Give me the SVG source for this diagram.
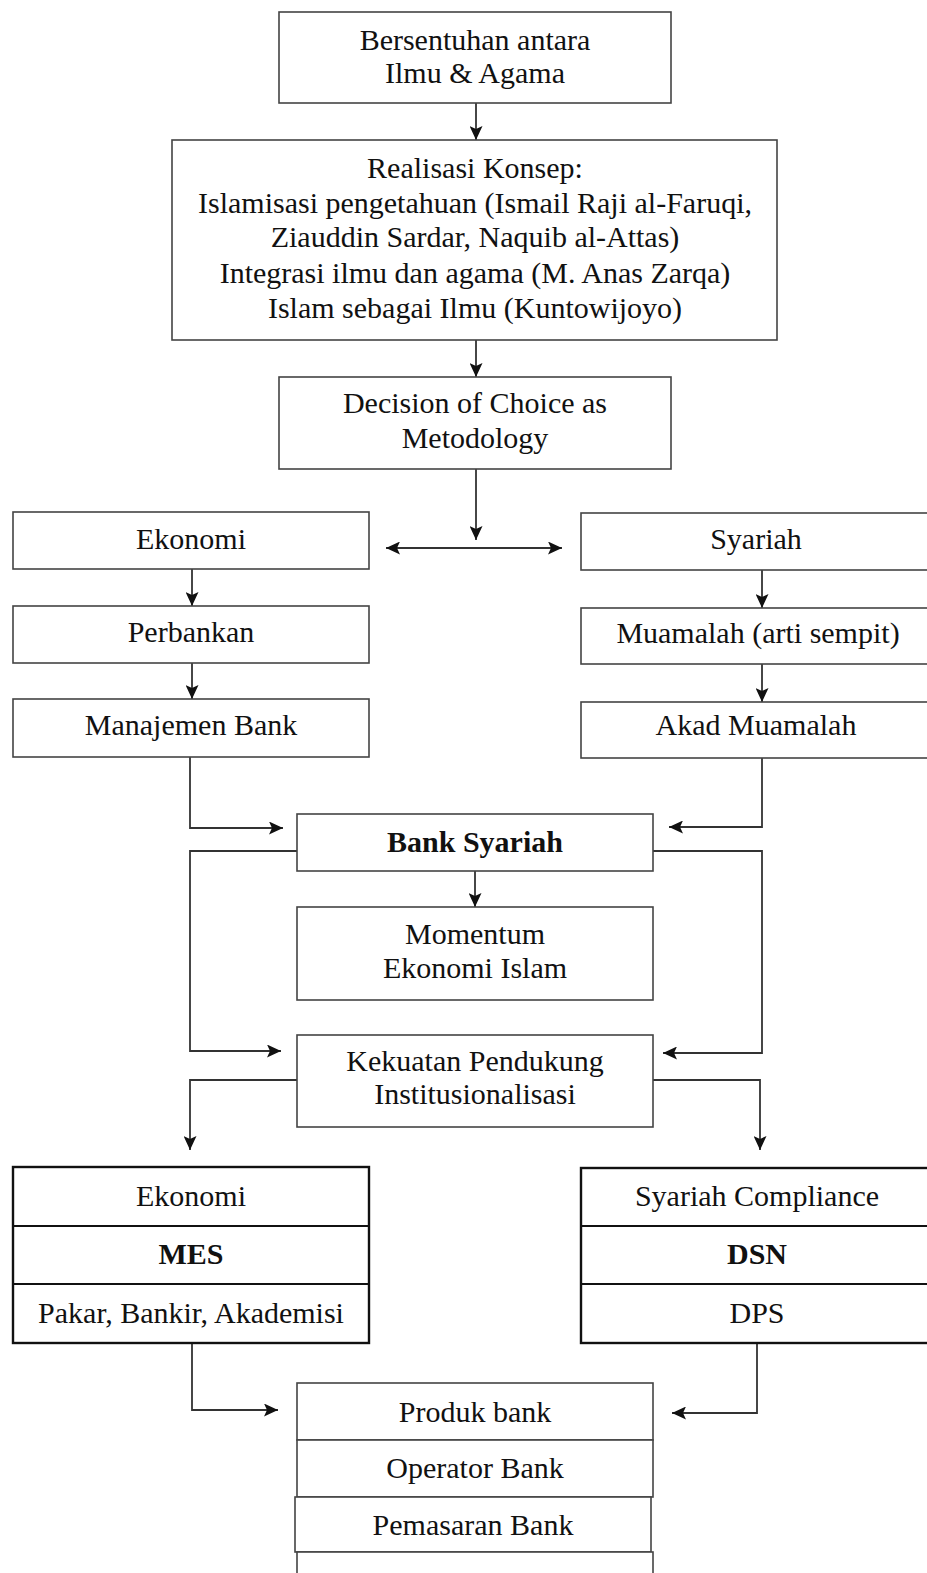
<svg xmlns="http://www.w3.org/2000/svg" width="927" height="1573" viewBox="0 0 927 1573">
<defs>
<style>
.box{fill:#fff;stroke:#444;stroke-width:1.6}
.sbox{fill:#fff;stroke:#111;stroke-width:2.4}
.row{stroke:#111;stroke-width:2.2}
.prow{stroke:#444;stroke-width:1.6}
.t{font-family:"Liberation Serif","Times New Roman",serif;font-size:30px;fill:#111;text-anchor:middle}
.b{font-weight:bold}
.c{fill:none;stroke:#333;stroke-width:1.8}
</style>
<marker id="ah" markerUnits="userSpaceOnUse" viewBox="0 0 14 13" refX="14" refY="6.5" markerWidth="14" markerHeight="13" orient="auto-start-reverse">
<path d="M0,0 L14,6.5 L0,13 L3,6.5 Z" fill="#111"/>
</marker>
</defs>
<rect width="927" height="1573" fill="#fff"/>
<g id="connectors">
<path class="c" d="M476,103 V140" marker-end="url(#ah)"/>
<path class="c" d="M476,340 V377" marker-end="url(#ah)"/>
<path class="c" d="M476,469 V540" marker-end="url(#ah)"/>
<path class="c" d="M386,548 H562" marker-start="url(#ah)" marker-end="url(#ah)"/>
<path class="c" d="M192,569 V606" marker-end="url(#ah)"/>
<path class="c" d="M192,663 V699" marker-end="url(#ah)"/>
<path class="c" d="M762,570 V608" marker-end="url(#ah)"/>
<path class="c" d="M762,664 V702" marker-end="url(#ah)"/>
<path class="c" d="M190,757 V828 H283" marker-end="url(#ah)"/>
<path class="c" d="M762,758 V827 H669" marker-end="url(#ah)"/>
<path class="c" d="M297,851 H190 V1051 H281" marker-end="url(#ah)"/>
<path class="c" d="M653,851 H762 V1053 H663" marker-end="url(#ah)"/>
<path class="c" d="M475,871 V907" marker-end="url(#ah)"/>
<path class="c" d="M297,1080 H190 V1150" marker-end="url(#ah)"/>
<path class="c" d="M653,1080 H760 V1150" marker-end="url(#ah)"/>
<path class="c" d="M192,1343 V1410 H278" marker-end="url(#ah)"/>
<path class="c" d="M757,1343 V1413 H672" marker-end="url(#ah)"/>
</g>
<g id="n-bersentuhan">
<rect class="box" x="279" y="12" width="392" height="91"/>
<text class="t" x="475" y="50">Bersentuhan antara</text>
<text class="t" x="475" y="83">Ilmu &amp; Agama</text>
</g>
<g id="n-realisasi">
<rect class="box" x="172" y="140" width="605" height="200"/>
<text class="t" x="475" y="178">Realisasi Konsep:</text>
<text class="t" x="475" y="213">Islamisasi pengetahuan (Ismail Raji al-Faruqi,</text>
<text class="t" x="475" y="247">Ziauddin Sardar, Naquib al-Attas)</text>
<text class="t" x="475" y="283">Integrasi ilmu dan agama (M. Anas Zarqa)</text>
<text class="t" x="475" y="318">Islam sebagai Ilmu (Kuntowijoyo)</text>
</g>
<g id="n-decision">
<rect class="box" x="279" y="377" width="392" height="92"/>
<text class="t" x="475" y="413">Decision of Choice as</text>
<text class="t" x="475" y="448">Metodology</text>
</g>
<g id="n-ekonomi">
<rect class="box" x="13" y="512" width="356" height="57"/>
<text class="t" x="191" y="549">Ekonomi</text>
</g>
<g id="n-perbankan">
<rect class="box" x="13" y="606" width="356" height="57"/>
<text class="t" x="191" y="642">Perbankan</text>
</g>
<g id="n-manajemen">
<rect class="box" x="13" y="699" width="356" height="58"/>
<text class="t" x="191" y="735">Manajemen Bank</text>
</g>
<g id="n-syariah">
<rect class="box" x="581" y="513" width="356" height="57"/>
<text class="t" x="756" y="549">Syariah</text>
</g>
<g id="n-muamalah">
<rect class="box" x="581" y="608" width="356" height="56"/>
<text class="t" x="758" y="643">Muamalah (arti sempit)</text>
</g>
<g id="n-akad">
<rect class="box" x="581" y="702" width="356" height="56"/>
<text class="t" x="756" y="735">Akad Muamalah</text>
</g>
<g id="n-bank-syariah">
<rect class="box" x="297" y="814" width="356" height="57"/>
<text class="t b" x="475" y="852">Bank Syariah</text>
</g>
<g id="n-momentum">
<rect class="box" x="297" y="907" width="356" height="93"/>
<text class="t" x="475" y="944">Momentum</text>
<text class="t" x="475" y="978">Ekonomi Islam</text>
</g>
<g id="n-kekuatan">
<rect class="box" x="297" y="1035" width="356" height="92"/>
<text class="t" x="475" y="1071">Kekuatan Pendukung</text>
<text class="t" x="475" y="1104">Institusionalisasi</text>
</g>
<g id="n-mes">
<rect class="sbox" x="13" y="1167" width="356" height="176"/>
<line class="row" x1="13" y1="1226" x2="369" y2="1226"/>
<line class="row" x1="13" y1="1284" x2="369" y2="1284"/>
<text class="t" x="191" y="1206">Ekonomi</text>
<text class="t b" x="191" y="1264">MES</text>
<text class="t" x="191" y="1323">Pakar, Bankir, Akademisi</text>
</g>
<g id="n-dsn">
<rect class="sbox" x="581" y="1168" width="356" height="175"/>
<line class="row" x1="581" y1="1226" x2="937" y2="1226"/>
<line class="row" x1="581" y1="1284" x2="937" y2="1284"/>
<text class="t" x="757" y="1206">Syariah Compliance</text>
<text class="t b" x="757" y="1264">DSN</text>
<text class="t" x="757" y="1323">DPS</text>
</g>
<g id="n-produk">
<rect class="box" x="297" y="1383" width="356" height="57"/>
<rect class="box" x="297" y="1440" width="356" height="57"/>
<rect class="box" x="295" y="1497" width="356" height="55"/>
<rect class="box" x="297" y="1552" width="356" height="40"/>
<text class="t" x="475" y="1422">Produk bank</text>
<text class="t" x="475" y="1478">Operator Bank</text>
<text class="t" x="473" y="1535">Pemasaran Bank</text>
</g>
</svg>
